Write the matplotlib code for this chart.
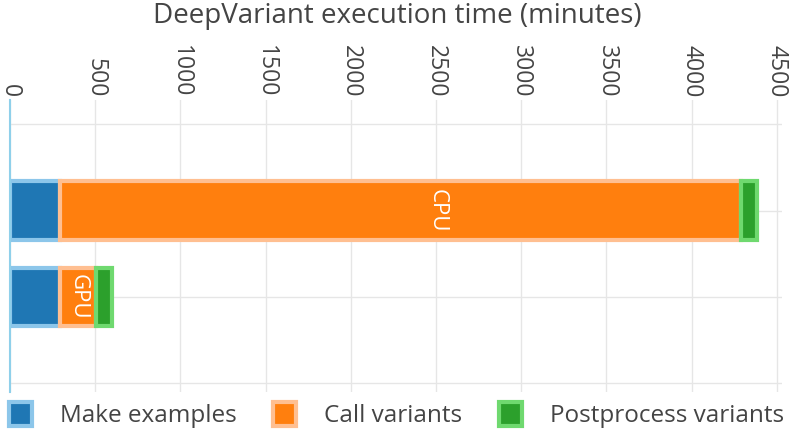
import matplotlib.pyplot as plt
from matplotlib.patches import Patch

plt.rcParams["font.family"] = ["Open Sans", "DejaVu Sans"]

platforms = ["CPU", "GPU"]
stages = ["Make examples", "Call variants", "Postprocess variants"]
make_examples = [293, 293]
call_variants = [3997, 212]
postprocess = [94, 94]
label_x = [2505, 400]

fills = ["#1f77b4", "#ff7f0e", "#2ca02c"]
edges = ["#8cc6ea", "#ffbf91", "#6fd96f"]

fig = plt.figure(figsize=(7.95, 4.34), dpi=100)
ax = fig.add_axes([0.0126, 0.0968, 0.971, 0.673])

ypos = [1, 2]
left = [0, 0]
for values, fc, ec in zip([make_examples, call_variants, postprocess], fills, edges):
    ax.barh(ypos, values, left=left, height=0.68, color=fc, edgecolor=ec, linewidth=3)
    left = [a + b for a, b in zip(left, values)]

# labels inside the call-variants segment
for y, x, name in zip(ypos, label_x, platforms):
    ax.text(x, y, name, rotation=-90, ha="center", va="center",
            color="white", fontsize=16)

ax.set_xlim(0, 4530)
ax.set_ylim(3.1, -0.28)
ax.set_xticks(range(0, 4501, 500))
ax.set_yticks([0, 1, 2, 3])
ax.set_yticklabels([])
ax.xaxis.tick_top()
ax.tick_params(axis="x", length=0, pad=2, labelsize=16.5, labelcolor="#444444",
               labelrotation=-90)
ax.tick_params(axis="y", length=0)
for lbl in ax.get_xticklabels():
    lbl.set_va("bottom")
ax.grid(True, color="#e6e6e6", linewidth=1)
ax.set_axisbelow(True)
for s in ["top", "right", "bottom"]:
    ax.spines[s].set_visible(False)
ax.spines["left"].set_color("#8fd0ea")
ax.spines["left"].set_linewidth(1.5)

fig.text(0.5, 0.962, "DeepVariant execution time (minutes)", ha="center", va="center",
         fontsize=20, color="#444444")

handles = [Patch(facecolor=fc, edgecolor=ec, linewidth=3) for fc, ec in zip(fills, edges)]
fig.legend(handles, stages, loc="lower left", bbox_to_anchor=(0.008, 0.008), ncol=3,
           frameon=False, fontsize=17.5, handlelength=0.95, handleheight=1.1,
           handletextpad=1.15, columnspacing=1.5, labelcolor="#444444",
           borderaxespad=0.0, borderpad=0.1)

fig.savefig("out.png", dpi=100)
